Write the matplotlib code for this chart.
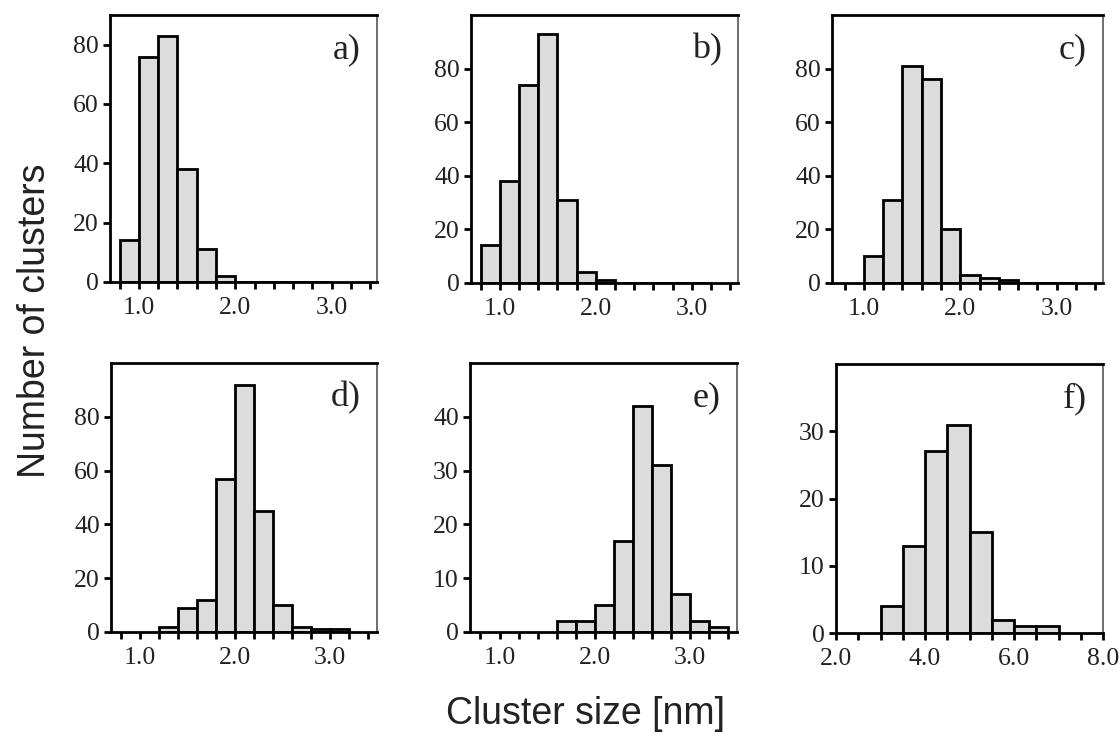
import matplotlib
matplotlib.use("Agg")
import matplotlib.pyplot as plt
from matplotlib.ticker import MultipleLocator, FixedLocator

# ---- data (bin left edges and counts) ----
labels = ["a)", "b)", "c)", "d)", "e)", "f)"]

edges_a = [0.8, 1.0, 1.2, 1.4, 1.6, 1.8, 2.0, 2.2, 2.4, 2.6, 2.8]
counts_a = [14, 76, 83, 38, 11, 2, 0, 0, 0, 0, 0]

edges_b = [0.8, 1.0, 1.2, 1.4, 1.6, 1.8, 2.0, 2.2, 2.4, 2.6, 2.8, 3.0]
counts_b = [14, 38, 74, 93, 31, 4, 1, 0, 0, 0, 0, 0]

edges_c = [1.0, 1.2, 1.4, 1.6, 1.8, 2.0, 2.2, 2.4, 2.6, 2.8, 3.0]
counts_c = [10, 31, 81, 76, 20, 3, 2, 1, 0, 0, 0]

edges_d = [1.2, 1.4, 1.6, 1.8, 2.0, 2.2, 2.4, 2.6, 2.8, 3.0]
counts_d = [2, 9, 12, 57, 92, 45, 10, 2, 1, 1]

edges_e = [1.6, 1.8, 2.0, 2.2, 2.4, 2.6, 2.8, 3.0, 3.2]
counts_e = [2, 2, 5, 17, 42, 31, 7, 2, 1]

edges_f = [3.0, 3.5, 4.0, 4.5, 5.0, 5.5, 6.0, 6.5]
counts_f = [4, 13, 27, 31, 15, 2, 1, 1]

xticks_small = [1.0, 2.0, 3.0]
xticks_f = [2.0, 4.0, 6.0, 8.0]
yticks_100 = [0, 20, 40, 60, 80]
yticks_e = [0, 10, 20, 30, 40]
yticks_f = [0, 10, 20, 30]

panels = [
    (edges_a, counts_a, 0.2, xticks_small, yticks_100, (0.70, 3.47), 90),
    (edges_b, counts_b, 0.2, xticks_small, yticks_100, (0.70, 3.48), 100),
    (edges_c, counts_c, 0.2, xticks_small, yticks_100, (0.67, 3.48), 100),
    (edges_d, counts_d, 0.2, xticks_small, yticks_100, (0.70, 3.49), 100),
    (edges_e, counts_e, 0.2, xticks_small, yticks_e, (0.69, 3.49), 50),
    (edges_f, counts_f, 0.5, xticks_f, yticks_f, (2.0, 8.0), 40),
]

# axes boxes in pixels: left, top, right, bottom
boxes_px = [
    (110, 15, 377, 282),
    (471, 15, 738, 283),
    (832, 15, 1103, 283),
    (111, 363, 377, 632),
    (470, 363, 737, 632),
    (836, 364, 1103, 633),
]

W, H = 1120, 738
fig = plt.figure(figsize=(W / 100, H / 100), dpi=100)
fig.patch.set_facecolor("white")

serif = ["Liberation Serif", "DejaVu Serif"]
sans = ["Liberation Sans", "DejaVu Sans"]

for (edges, counts, width, xt, yt, xl, ytop), (l, t, r, b), lab in zip(panels, boxes_px, labels):
    ax = fig.add_axes([l / W, 1 - b / H, (r - l) / W, (b - t) / H])
    ax.bar(edges, counts, width=width, align="edge", color="#dcdcdc",
           edgecolor="black", linewidth=2.0, zorder=2)
    ax.set_xlim(*xl)
    ax.set_ylim(0, ytop)
    ax.xaxis.set_major_locator(FixedLocator(xt))
    ax.xaxis.set_minor_locator(MultipleLocator(width))
    ax.set_xticklabels([f"{v:.1f}" for v in xt])
    ax.set_yticks(yt)
    ax.set_yticklabels([str(v) for v in yt])
    for s in ["left", "bottom", "top"]:
        ax.spines[s].set_linewidth(2.0)
        ax.spines[s].set_color("black")
    ax.spines["right"].set_linewidth(1.2)
    ax.spines["right"].set_color("#555555")
    ax.tick_params(axis="both", which="both", direction="out", width=2.0,
                   length=5, colors="black", labelcolor="#222222")
    ax.tick_params(axis="x", which="both", pad=6)
    ax.tick_params(axis="y", which="both", pad=3)
    ax.tick_params(axis="y", which="minor", left=False)
    for tl in ax.get_xticklabels() + ax.get_yticklabels():
        tl.set_fontfamily(serif)
        tl.set_fontsize(18.5)
    ax.text(0.94, 0.87, lab, transform=ax.transAxes, ha="right", va="center",
            fontsize=26, family=serif, color="#222222")

fig.text(35 / W, 1 - 321 / H, "Number of clusters", rotation=90,
         ha="center", va="center", fontsize=27, family=sans, color="#222222")
fig.text(586 / W, 1 - 714 / H, "Cluster size [nm]", ha="center", va="center",
         fontsize=27, family=sans, color="#222222")

fig.savefig("out.png", dpi=100, facecolor="white")
